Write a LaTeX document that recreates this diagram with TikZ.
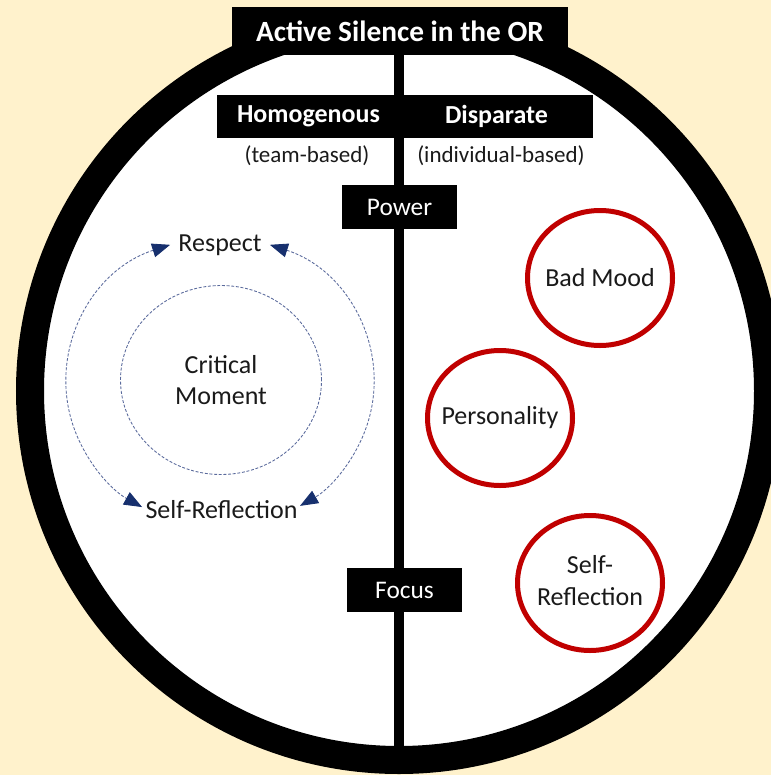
\documentclass[tikz,border=0pt]{standalone}
\usepackage{fontspec}
\setmainfont{Carlito}
\usetikzlibrary{arrows.meta,shapes.geometric}
\definecolor{bgcream}{HTML}{FFF2CC}
\definecolor{ringred}{HTML}{C00000}
\definecolor{navyarrow}{HTML}{17306E}
\definecolor{dashblue}{HTML}{5A6A9C}
\definecolor{inktext}{HTML}{1A1A1A}
\begin{document}
\begin{tikzpicture}[x=0.75pt,y=-0.75pt,
  blackbox/.style={fill=black, text=white, inner sep=0pt, minimum height=32.5pt},
  bodytext/.style={text=inktext, inner sep=0pt, align=center, font=\fontsize{19.5}{24}\selectfont},
  subtext/.style={text=inktext, inner sep=0pt, font=\fontsize{17.25}{20}\selectfont},
  redring/.style={ellipse, draw=ringred, line width=3.75pt, inner sep=0pt,
    minimum width=108.75pt, minimum height=101.25pt, text=inktext,
    font=\fontsize{19.5}{24}\selectfont},
  dashring/.style={draw=dashblue, line width=0.65pt, dash pattern=on 2.2pt off 1.3pt},
  cycarrow/.style={dashring, {Triangle[length=13.5pt,width=10.5pt,color=navyarrow]}-{Triangle[length=13.5pt,width=10.5pt,color=navyarrow]}}
]
\useasboundingbox (0,0) rectangle (771,775);
\fill[bgcream] (0,0) rectangle (771,775);
\begin{scope}
  \clip (0,0) rectangle (771,775);
  \draw[line width=21pt, fill=white] (399,391) circle[radius=369];
\end{scope}

% title and divider
\coordinate (vtop) at (399,50);
\coordinate (vbot) at (399,762);
\draw[line width=7.5pt] (vtop) -- (vbot);
\node[blackbox, minimum width=252pt, minimum height=36pt,
  font=\bfseries\fontsize{22}{26}\selectfont] (title) at (400,31) {Active Silence in the OR};

% header boxes
\node[blackbox, minimum width=137.25pt, minimum height=32.25pt,
  font=\bfseries\fontsize{19.5}{24}\selectfont] (homo) at (308.5,116.5) {Homogenous};
\node[blackbox, minimum width=144.75pt, minimum height=32.25pt,
  font=\bfseries\fontsize{19.5}{24}\selectfont] (disp) at (496.5,116.5) {Disparate};
\node[subtext] (team) at (307,156) {(team-based)};
\node[subtext] (indiv) at (501,156) {(individual-based)};

\node[blackbox, minimum width=86.25pt, minimum height=33pt,
  font=\fontsize{19}{23}\selectfont] (power) at (399.5,207) {Power};
\node[blackbox, minimum width=86.25pt, minimum height=33pt,
  font=\fontsize{19}{23}\selectfont] (focus) at (404.5,590) {Focus};

% left cycle
\node[ellipse, dashring, minimum width=150.75pt, minimum height=141.75pt, inner sep=0pt,
  text=inktext, align=center, font=\fontsize{19.5}{23.25}\selectfont] (crit) at (221,380) {Critical\\Moment};
\node[bodytext] (respect) at (220,245) {Respect};
\node[bodytext] (selfref) at (221.5,510) {Self-Reflection};
\coordinate (cyc) at (220,382);
\draw[cycarrow] ([shift={(-108.9:154 and 145)}]cyc) arc[start angle=-108.9, end angle=-239.6, x radius=154, y radius=145];
\draw[cycarrow] ([shift={(-71.1:154 and 145)}]cyc) arc[start angle=-71.1, end angle=58.7, x radius=154, y radius=145];

% right red rings
\node[redring] (bad) at (600,278) {\makebox[0pt]{Bad Mood}};
\node[redring] (pers) at (500,418) {\makebox[0pt]{Personality}};
\node[redring] (selfr) at (590,583) {\makebox[0pt]{\begin{tabular}{@{}c@{}}Self-\\Reflection\end{tabular}}};
\end{tikzpicture}
\end{document}
